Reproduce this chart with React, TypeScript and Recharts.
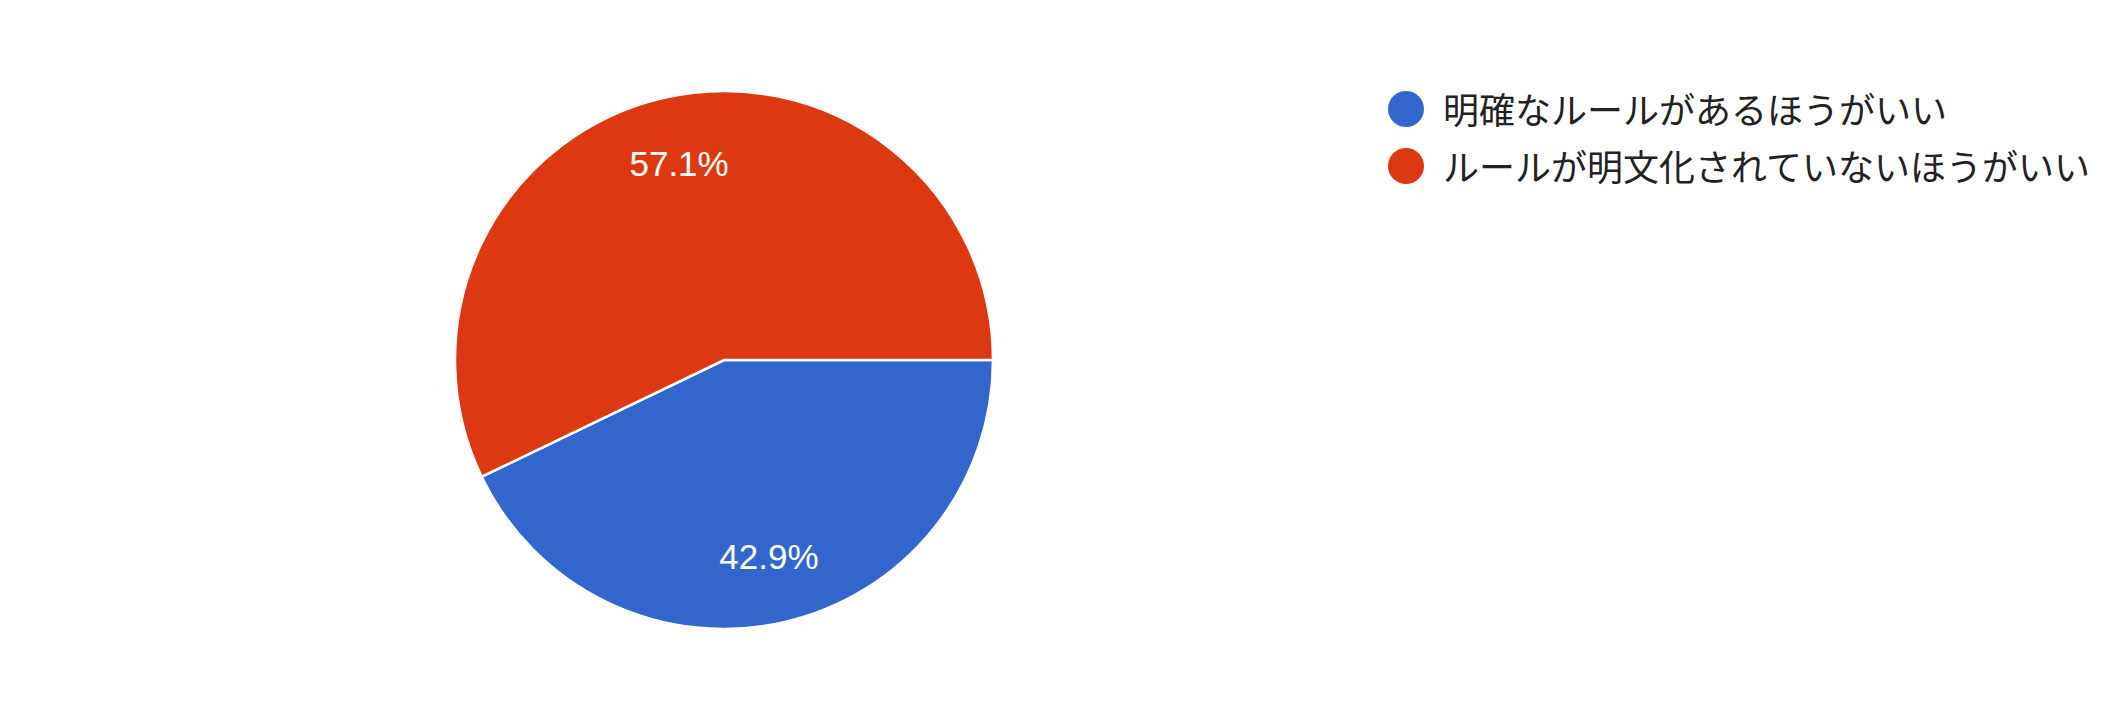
import React from 'react';
import { PieChart, Pie, Cell, Legend } from 'recharts';

const categories = ['明確なルールがあるほうがいい', 'ルールが明文化されていないほうがいい'];
const values = [3, 4];
const colors = ['#3366CC', '#DC3912'];

const data = categories.map((name, i) => ({ name, value: values[i] }));

const RADIAN = Math.PI / 180;

const renderLabel = (props: any) => {
  const { cx, cy, midAngle, outerRadius, percent } = props;
  const r = outerRadius * 0.75;
  const x = cx + r * Math.cos(-midAngle * RADIAN);
  const y = cy + r * Math.sin(-midAngle * RADIAN);
  return (
    <text
      x={x}
      y={y}
      fill="#ffffff"
      textAnchor="middle"
      dominantBaseline="central"
      fontFamily="'Liberation Sans', Arial, sans-serif"
      fontSize={35}
    >
      {(percent * 100).toFixed(1) + '%'}
    </text>
  );
};

const renderLegend = () => (
  <div style={{ display: 'flex', flexDirection: 'column' }}>
    {categories.map((c, i) => (
      <div key={c} style={{ display: 'flex', alignItems: 'center', height: 57 }}>
        <div
          style={{
            width: 36,
            height: 36,
            borderRadius: '50%',
            background: colors[i],
            marginRight: 19,
            flex: 'none',
          }}
        />
        <span
          style={{
            fontFamily: "'Noto Sans CJK JP', sans-serif",
            fontSize: 36,
            color: '#222222',
            whiteSpace: 'nowrap',
            lineHeight: '57px',
          }}
        >
          {c}
        </span>
      </div>
    ))}
  </div>
);

export default function App() {
  return (
    <div style={{ position: 'absolute', left: 0, top: 0, width: 2112, height: 716, background: '#ffffff' }}>
      <PieChart width={2112} height={716} margin={{ top: 0, right: 0, bottom: 0, left: 0 }}>
        <Pie
          data={data}
          dataKey="value"
          nameKey="name"
          cx={724}
          cy={360}
          outerRadius={269}
          startAngle={0}
          endAngle={-360}
          stroke="#ffffff"
          strokeWidth={2.5}
          label={renderLabel}
          labelLine={false}
          isAnimationActive={false}
        >
          {data.map((d, i) => (
            <Cell key={d.name} fill={colors[i]} />
          ))}
        </Pie>
        <Legend
          content={renderLegend}
          wrapperStyle={{ position: 'absolute', left: 1388, top: 80, width: 720 }}
        />
      </PieChart>
    </div>
  );
}
